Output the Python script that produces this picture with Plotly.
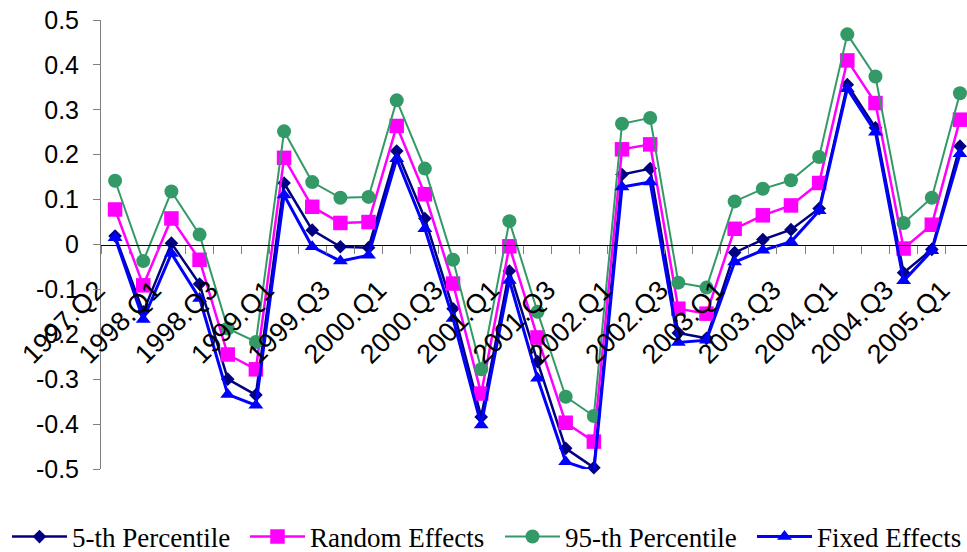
import plotly.graph_objects as go

categories = ["1997.Q2", "1997.Q4",
              "1998.Q1", "1998.Q2", "1998.Q3", "1998.Q4",
              "1999.Q1", "1999.Q2", "1999.Q3", "1999.Q4",
              "2000.Q1", "2000.Q2", "2000.Q3", "2000.Q4",
              "2001.Q1", "2001.Q2", "2001.Q3", "2001.Q4",
              "2002.Q1", "2002.Q2", "2002.Q3", "2002.Q4",
              "2003.Q1", "2003.Q2", "2003.Q3", "2003.Q4",
              "2004.Q1", "2004.Q2", "2004.Q3", "2004.Q4",
              "2005.Q1"]

tick_text = [c if i % 2 == 0 else "" for i, c in enumerate(categories)]

p5 = [0.019, -0.150, 0.003, -0.088, -0.300, -0.335, 0.137, 0.032, -0.005, -0.007,
      0.208, 0.058, -0.143, -0.384, -0.059, -0.261, -0.454, -0.497, 0.156, 0.169,
      -0.197, -0.209, -0.018, 0.011, 0.033, 0.080, 0.356, 0.260, -0.063, -0.011, 0.219]
random_eff = [0.078, -0.091, 0.058, -0.034, -0.245, -0.278, 0.193, 0.084, 0.048, 0.050,
              0.264, 0.112, -0.087, -0.332, -0.004, -0.207, -0.397, -0.439, 0.212, 0.223,
              -0.143, -0.154, 0.035, 0.065, 0.087, 0.137, 0.410, 0.315, -0.009, 0.044, 0.278]
p95 = [0.142, -0.037, 0.118, 0.022, -0.187, -0.217, 0.252, 0.139, 0.104, 0.106,
       0.321, 0.169, -0.034, -0.278, 0.052, -0.150, -0.339, -0.382, 0.269, 0.282,
       -0.085, -0.096, 0.096, 0.124, 0.143, 0.195, 0.468, 0.374, 0.048, 0.104, 0.337]
fixed_eff = [0.015, -0.167, -0.020, -0.120, -0.334, -0.358, 0.110, -0.005, -0.037, -0.024,
             0.191, 0.035, -0.165, -0.402, -0.080, -0.298, -0.484, -0.505, 0.128, 0.139,
             -0.218, -0.213, -0.039, -0.013, 0.006, 0.075, 0.347, 0.250, -0.081, -0.014, 0.202]

y_ticks = [0.5, 0.4, 0.3, 0.2, 0.1, 0, -0.1, -0.2, -0.3, -0.4, -0.5]
y_tick_text = ["0.5", "0.4", "0.3", "0.2", "0.1", "0", "-0.1", "-0.2", "-0.3", "-0.4", "-0.5"]

series = [
    ("5-th Percentile", p5, "#000080", "diamond", 10.5, 2.5, "legend", 7),
    ("Random Effects", random_eff, "#FF00FF", "square", 14.5, 2.5, "legend2", 245),
    ("95-th Percentile", p95, "#339966", "circle", 14, 2, "legend3", 500),
    ("Fixed Effects", fixed_eff, "#0000FF", "triangle-up", 13, 3, "legend4", 752),
]

fig = go.Figure()
legend_layouts = {}
for name, vals, color, sym, size, lw, leg, lx in series:
    fig.add_trace(go.Scatter(
        x=categories, y=vals, name=name, mode="lines+markers",
        line=dict(color=color, width=lw),
        marker=dict(symbol=sym, size=size, color=color, line=dict(width=0)),
        cliponaxis=False, legend=leg,
    ))
    legend_layouts[leg] = dict(
        orientation="h", xref="container", x=lx / 967, xanchor="left",
        yref="container", y=(552 - 537) / 552, yanchor="middle",
        font=dict(family="Liberation Serif, Times New Roman", size=27, color="black"),
        itemwidth=55, bgcolor="rgba(0,0,0,0)",
    )

fig.update_layout(
    width=967, height=552,
    margin=dict(l=101, r=0, t=20, b=83),
    paper_bgcolor="white", plot_bgcolor="white",
    font=dict(family="Liberation Sans, Arial", size=23, color="black"),
    showlegend=True,
    xaxis=dict(
        type="category", categoryorder="array", categoryarray=categories,
        range=[-0.5, 30.25],
        tickmode="array", tickvals=categories, ticktext=tick_text,
        tickson="boundaries", ticks="outside", ticklen=8, tickcolor="#808080",
        tickangle=-45, ticklabelstandoff=18, ticklabelshift=-18,
        showline=True, linecolor="black", linewidth=1,
        showgrid=False, zeroline=False, automargin=False,
        anchor="free", position=0.5,
        tickfont=dict(family="Liberation Sans, Arial", size=27, color="black"),
    ),
    yaxis=dict(
        range=[-0.5, 0.5],
        tickmode="array", tickvals=y_ticks, ticktext=y_tick_text,
        ticks="outside", ticklen=7, tickcolor="#808080",
        ticklabelstandoff=9,
        showline=True, linecolor="#808080", linewidth=1,
        showgrid=False, zeroline=False, automargin=False,
        tickfont=dict(family="Liberation Sans, Arial", size=25, color="black"),
    ),
    **legend_layouts,
)

fig.write_html("out.html")
